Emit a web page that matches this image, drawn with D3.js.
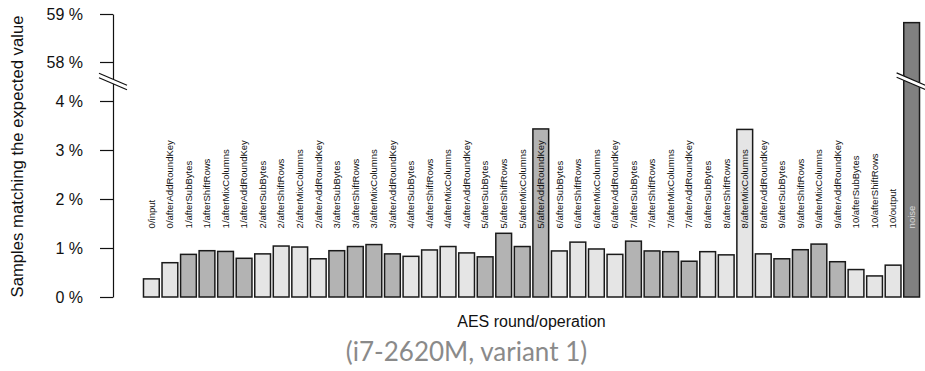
<!DOCTYPE html>
<html>
<head>
<meta charset="utf-8">
<script src="https://cdn.jsdelivr.net/npm/d3@7"></script>
<style>
  body { margin: 0; background: #fff; }
  svg { display: block; }
  .chart text { font-family: "Liberation Sans", Arial, sans-serif; }
</style>
</head>
<body>
<div id="chart"></div>
<script>
// values, percent of samples
const steps = [
  '0/input', '0/afterAddRoundKey',
  '1/afterSubBytes', '1/afterShiftRows', '1/afterMixColumns', '1/afterAddRoundKey',
  '2/afterSubBytes', '2/afterShiftRows', '2/afterMixColumns', '2/afterAddRoundKey',
  '3/afterSubBytes', '3/afterShiftRows', '3/afterMixColumns', '3/afterAddRoundKey',
  '4/afterSubBytes', '4/afterShiftRows', '4/afterMixColumns', '4/afterAddRoundKey',
  '5/afterSubBytes', '5/afterShiftRows', '5/afterMixColumns', '5/afterAddRoundKey',
  '6/afterSubBytes', '6/afterShiftRows', '6/afterMixColumns', '6/afterAddRoundKey',
  '7/afterSubBytes', '7/afterShiftRows', '7/afterMixColumns', '7/afterAddRoundKey',
  '8/afterSubBytes', '8/afterShiftRows', '8/afterMixColumns', '8/afterAddRoundKey',
  '9/afterSubBytes', '9/afterShiftRows', '9/afterMixColumns', '9/afterAddRoundKey',
  '10/afterSubBytes', '10/afterShiftRows', '10/output', 'noise'
];
const matchPct = [
  0.37, 0.70,
  0.87, 0.945, 0.93, 0.79,
  0.88, 1.04, 1.02, 0.78,
  0.945, 1.03, 1.07, 0.88,
  0.83, 0.96, 1.03, 0.90,
  0.82, 1.30, 1.03, 3.43,
  0.94, 1.12, 0.98, 0.87,
  1.14, 0.94, 0.925, 0.73,
  0.925, 0.86, 3.42, 0.88,
  0.78, 0.965, 1.08, 0.72,
  0.56, 0.43, 0.65, 58.82
];
const yTicks = [0, 1, 2, 3, 4, 58, 59];
const labelAt = 1.4;   // where the rotated step names start

const W = 925, H = 371;
const svg = d3.select('#chart').append('svg')
  .attr('class', 'chart')
  .attr('width', W)
  .attr('height', H);

// broken axis: 0..4 below the break, 58..59 above it
const y = d3.scaleLinear()
  .domain([0, 4, 58, 59])
  .range([297, 101, 62, 14]);

const x = d3.scaleBand()
  .domain(steps)
  .range([142, 921])
  .paddingInner(0.15)
  .paddingOuter(0.08);

const fillFor = (name) => {
  if (name === 'noise') return '#808080';
  const round = +name.split('/')[0];
  return round % 2 === 0 ? '#e5e5e5' : '#b3b3b3';
};

const rows = steps.map((s, i) => ({ step: s, value: matchPct[i] }));

svg.append('g')
  .selectAll('rect')
  .data(rows)
  .join('rect')
  .attr('x', d => x(d.step))
  .attr('y', d => y(d.value))
  .attr('width', x.bandwidth())
  .attr('height', d => y(0) - y(d.value))
  .attr('fill', d => fillFor(d.step))
  .attr('stroke', '#1a1a1a')
  .attr('stroke-width', 1.5);

// step names
svg.append('g')
  .selectAll('text')
  .data(rows)
  .join('text')
  .attr('transform', d => `translate(${x(d.step) + x.bandwidth() / 2},${y(labelAt)}) rotate(-90)`)
  .attr('dy', '0.35em')
  .style('font-size', '9.5px')
  .attr('fill', d => d.step === 'noise' ? '#d9d9d9' : '#111')
  .text(d => d.step);

// y axis
const yAxis = svg.append('g')
  .attr('transform', 'translate(113,0)')
  .call(d3.axisLeft(y).tickValues(yTicks).tickSizeOuter(0).tickSizeInner(13).tickPadding(17)
    .tickFormat(d => d + ' %'));
yAxis.select('.domain').attr('stroke', '#111').attr('stroke-width', 1.2);
yAxis.selectAll('.tick line').attr('stroke', '#111').attr('stroke-width', 1.2);
yAxis.selectAll('.tick text').style('font-size', '16px').attr('fill', '#111');

// break marks on the axis and across the tall bar
const breakY = (y(4) + y(58)) / 2;
function drawBreak(cx, half) {
  const g = svg.append('g');
  const slope = 0.43, gap = 2.2;
  const x0 = cx - half, x1 = cx + half;
  const yA = breakY - half * slope, yB = breakY + half * slope;
  g.append('polygon')
    .attr('points', [[x0, yA - gap], [x1, yB - gap], [x1, yB + gap], [x0, yA + gap]].join(' '))
    .attr('fill', '#fff');
  [-gap, gap].forEach(off => {
    g.append('line')
      .attr('x1', x0).attr('y1', yA + off)
      .attr('x2', x1).attr('y2', yB + off)
      .attr('stroke', '#111').attr('stroke-width', 1.2);
  });
}
drawBreak(113, 14);
drawBreak(x('noise') + x.bandwidth() / 2, 15);

// axis titles
svg.append('text')
  .attr('transform', `translate(17,${(y(0) + y(59)) / 2 + 1}) rotate(-90)`)
  .attr('text-anchor', 'middle')
  .attr('dy', '0.35em')
  .style('font-size', '16.7px')
  .attr('fill', '#111')
  .text('Samples matching the expected value');

svg.append('text')
  .attr('x', (x.range()[0] + x.range()[1]) / 2)
  .attr('y', 327)
  .attr('text-anchor', 'middle')
  .style('font-size', '16px')
  .attr('fill', '#111')
  .text('AES round/operation');

svg.append('text')
  .attr('x', W / 2 + 4)
  .attr('y', 361)
  .attr('text-anchor', 'middle')
  .style('font-family', 'Lato, sans-serif')
  .style('font-size', '26px')
  .attr('fill', '#8a8a8a')
  .text('(i7-2620M, variant 1)');
</script>
</body>
</html>
